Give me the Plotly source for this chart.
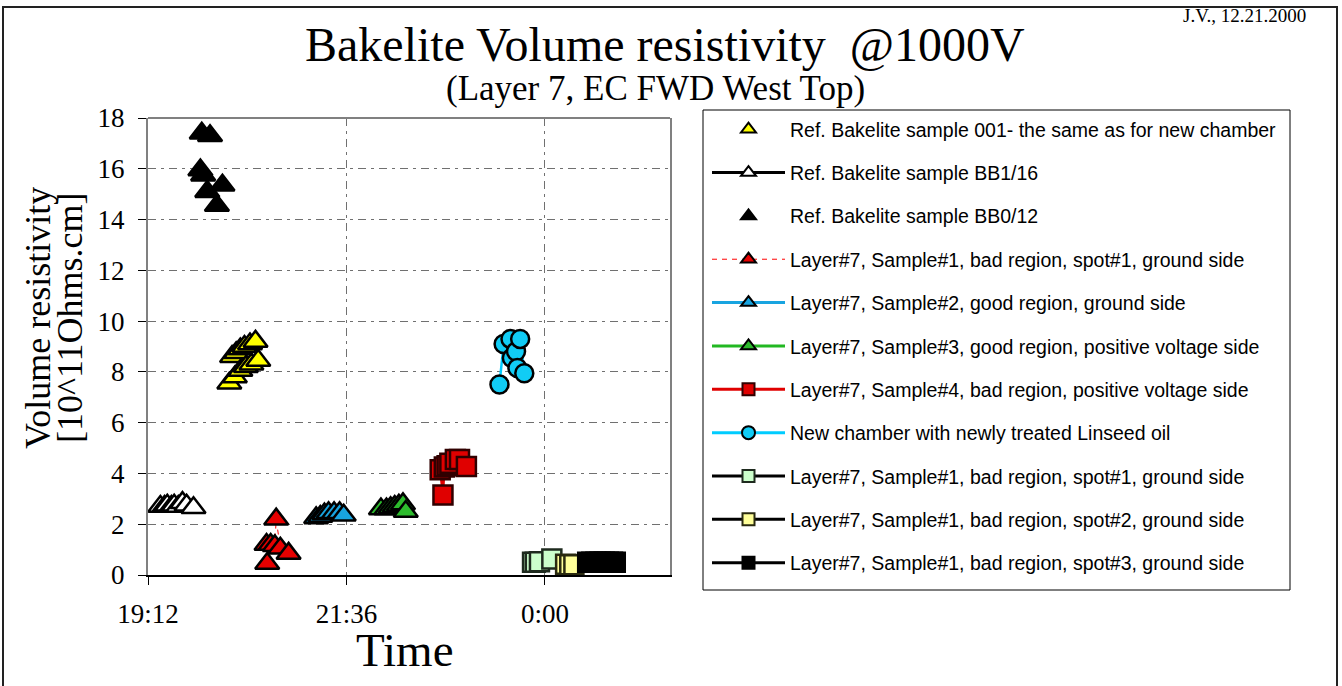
import plotly.graph_objects as go

# Measurement times (HH:MM, evening of 20 Dec running past midnight) and
# volume resistivity values in units of 10^11 Ohm.cm
ref001_t = ["20:11", "20:13", "20:15", "20:16", "20:19", "20:19", "20:22", "20:23", "20:26", "20:27", "20:30", "20:32"]
ref001_v = [7.55, 8.6, 7.8, 8.75, 8.05, 8.9, 9.0, 8.2, 9.1, 8.3, 9.2, 8.45]

bb1_t = ["19:21", "19:24", "19:26", "19:29", "19:31", "19:34", "19:37", "19:40", "19:45"]
bb1_v = [2.7, 2.7, 2.75, 2.7, 2.75, 2.7, 2.85, 2.75, 2.65]

bb0_t = ["19:50", "19:51", "19:52", "19:55", "19:57", "20:02", "20:06"]
bb0_v = [15.95, 17.4, 15.75, 15.1, 17.3, 14.55, 15.35]

s1_t = ["20:38", "20:38:30", "20:41", "20:44", "20:45", "20:48", "20:54"]
s1_v = [1.2, 0.45, 1.2, 1.15, 2.2, 1.05, 0.85]

s2_t = ["21:14", "21:17", "21:20", "21:23", "21:27", "21:31", "21:34"]
s2_v = [2.25, 2.3, 2.4, 2.45, 2.45, 2.45, 2.35]

s3_t = ["22:01", "22:05", "22:08", "22:11", "22:14", "22:17", "22:19"]
s3_v = [2.6, 2.6, 2.65, 2.7, 2.75, 2.8, 2.5]

s4_t = ["22:44", "22:46", "22:47", "22:49", "22:51", "22:55", "22:58", "23:03"]
s4_v = [4.15, 3.15, 4.25, 4.3, 4.4, 4.55, 4.55, 4.27]

new_t = ["23:27", "23:30", "23:35", "23:36", "23:39", "23:40", "23:42", "23:45"]
new_v = [7.5, 9.1, 9.3, 8.55, 8.8, 8.15, 9.3, 7.95]

spot1_t = ["23:51", "23:53", "23:56", "00:05"]
spot1_v = [0.5, 0.5, 0.52, 0.63]

spot2_t = ["00:15", "00:18", "00:21"]
spot2_v = [0.42, 0.4, 0.4]

spot3_t = ["00:31", "00:34", "00:37", "00:40", "00:43", "00:46", "00:49", "00:51"]
spot3_v = [0.5, 0.5, 0.5, 0.5, 0.5, 0.5, 0.5, 0.5]

tick_times = ["19:12", "21:36", "00:00"]
tick_text = ["19:12", "21:36", "0:00"]
y_ticks = [0, 2, 4, 6, 8, 10, 12, 14, 16, 18]

DAY1, DAY2 = "2000-12-20", "2000-12-21"


def stamp(hm):
    """Attach the date: evening hours belong to day 1, after midnight to day 2."""
    hour = int(hm.split(":")[0])
    return (DAY1 if hour >= 12 else DAY2) + " " + hm


def stamps(times):
    return [stamp(t) for t in times]


SERIF = "Liberation Serif, Times New Roman, serif"
SANS = "Liberation Sans, Arial, sans-serif"

W, H = 1342, 686
ML, MR, MT, MB = 148, 672, 118, 111
PW, PH = W - ML - MR, H - MT - MB


def px_x(px):
    return (px - ML) / PW


def px_y(py):
    return (H - MB - py) / PH


series = [
    dict(name="Ref. Bakelite sample 001- the same as for new chamber", t=ref001_t, v=ref001_v,
         symbol="triangle-up", size=21, fill="#FFFF00", edge="#000000", line=None),
    dict(name="Ref. Bakelite sample BB1/16", t=bb1_t, v=bb1_v,
         symbol="triangle-up", size=21, fill="#FFFFFF", edge="#000000",
         line=dict(color="#000000", width=2.5)),
    dict(name="Ref. Bakelite sample BB0/12", t=bb0_t, v=bb0_v,
         symbol="triangle-up", size=21, fill="#000000", edge="#000000", line=None),
    dict(name="Layer#7, Sample#1, bad region, spot#1, ground side", t=s1_t, v=s1_v,
         symbol="triangle-up", size=21, fill="#E60000", edge="#000000",
         line=dict(color="#FF0000", width=1, dash="5px,5px")),
    dict(name="Layer#7, Sample#2, good region, ground side", t=s2_t, v=s2_v,
         symbol="triangle-up", size=21, fill="#18A4E0", edge="#000000",
         line=dict(color="#18A4E0", width=2.5)),
    dict(name="Layer#7, Sample#3, good region, positive voltage side", t=s3_t, v=s3_v,
         symbol="triangle-up", size=21, fill="#2DBB2D", edge="#000000",
         line=dict(color="#22B822", width=2.5)),
    dict(name="Layer#7, Sample#4, bad region, positive voltage side", t=s4_t, v=s4_v,
         symbol="square", size=19, fill="#E00000", edge="#300000",
         line=dict(color="#E00000", width=2.5)),
    dict(name="New chamber with newly treated Linseed oil", t=new_t, v=new_v,
         symbol="circle", size=18, fill="#11CCF5", edge="#000000",
         line=dict(color="#00CCFF", width=2.5)),
    dict(name="Layer#7, Sample#1, bad region, spot#1, ground side", t=spot1_t, v=spot1_v,
         symbol="square", size=19, fill="#CCFFCC", edge="#1E2A1E",
         line=dict(color="#000000", width=2.5)),
    dict(name="Layer#7, Sample#1, bad region, spot#2, ground side", t=spot2_t, v=spot2_v,
         symbol="square", size=19, fill="#FFFF99", edge="#2A2A10",
         line=dict(color="#000000", width=2.5)),
    dict(name="Layer#7, Sample#1, bad region, spot#3, ground side", t=spot3_t, v=spot3_v,
         symbol="square", size=19, fill="#000000", edge="#000000",
         line=dict(color="#000000", width=2.5)),
]

fig = go.Figure()
for i, s in enumerate(series):
    has_line = s["line"] is not None
    mode = "lines+markers" if has_line else "markers"
    fig.add_trace(go.Scatter(
        x=stamps(s["t"]), y=s["v"], name=s["name"], mode=mode,
        line=s["line"] if has_line else None,
        marker=dict(symbol=s["symbol"], size=s["size"], color=s["fill"],
                    line=dict(color=s["edge"], width=2.5)),
        showlegend=False, legendgroup=f"g{i}",
    ))

# Legend keys use smaller markers and thinner lines than the plotted points
for i, s in enumerate(series):
    has_line = s["line"] is not None
    key_line = None
    if has_line:
        key_line = dict(s["line"])
        if key_line.get("dash") is None:
            key_line["width"] = 3
    fig.add_trace(go.Scatter(
        x=[None], y=[None], name=s["name"],
        mode="lines+markers" if has_line else "markers",
        line=key_line,
        marker=dict(symbol=s["symbol"], size=13 if s["symbol"] != "square" else 12,
                    color=s["fill"], line=dict(color=s["edge"], width=2)),
        legendgroup=f"g{i}", showlegend=True, hoverinfo="skip",
    ))

grid = dict(gridcolor="#707070", gridwidth=1.3, griddash="8px,5px,3px,5px")

fig.update_xaxes(
    type="date",
    range=[stamp("19:12"), stamp("01:30:43")],
    tickmode="array", tickvals=stamps(tick_times), ticktext=tick_text,
    ticks="outside", ticklen=8, tickcolor="#000000", tickwidth=1,
    showline=True, linecolor="#000000", linewidth=2,
    tickfont=dict(family=SERIF, size=27, color="#000000"),
    ticklabelstandoff=6,
    showgrid=True, zeroline=False, **grid,
)
fig.update_yaxes(
    range=[0, 18], tickmode="array", tickvals=y_ticks,
    ticks="outside", ticklen=8, tickcolor="#000000", tickwidth=1,
    showline=True, linecolor="#808080", linewidth=2, mirror=True,
    tickfont=dict(family=SERIF, size=27, color="#000000"),
    ticklabelstandoff=8,
    showgrid=True, zeroline=False, **grid,
)

shapes = [
    # top edge of the plot frame
    dict(type="line", xref="paper", yref="paper", x0=0, x1=1, y0=1, y1=1,
         line=dict(color="#808080", width=2)),
    # legend frame
    dict(type="rect", xref="paper", yref="paper",
         x0=px_x(703), x1=px_x(1290), y0=px_y(590), y1=px_y(110),
         line=dict(color="#000000", width=1)),
    # outer chart border
    dict(type="rect", xref="paper", yref="paper",
         x0=px_x(3), x1=px_x(1337), y0=px_y(700), y1=px_y(7),
         line=dict(color="#222222", width=2)),
]

annotations = [
    dict(text="Bakelite Volume resistivity  @1000V", x=px_x(665), y=px_y(44),
         font=dict(family=SERIF, size=48, color="#000000")),
    dict(text="(Layer 7, EC FWD West Top)", x=px_x(655), y=px_y(88),
         font=dict(family=SERIF, size=35, color="#000000")),
    dict(text="J.V., 12.21.2000", x=px_x(1308), y=px_y(15), xanchor="right",
         font=dict(family=SERIF, size=19, color="#000000")),
    dict(text="Time", x=px_x(405), y=px_y(650),
         font=dict(family=SERIF, size=47, color="#000000")),
    dict(text="Volume resistivity", x=px_x(38), y=px_y(318), textangle=-90,
         font=dict(family=SERIF, size=36, color="#000000")),
    dict(text="[10^11Ohms.cm]", x=px_x(70), y=px_y(318), textangle=-90,
         font=dict(family=SERIF, size=36, color="#000000")),
]
for a in annotations:
    a.setdefault("xanchor", "center")
    a.update(xref="paper", yref="paper", yanchor="middle", showarrow=False)

fig.update_layout(
    width=W, height=H, autosize=False,
    margin=dict(l=ML, r=MR, t=MT, b=MB, pad=0),
    paper_bgcolor="#FFFFFF", plot_bgcolor="#FFFFFF",
    showlegend=True,
    legend=dict(
        x=px_x(707), y=px_y(110), xanchor="left", yanchor="top",
        bgcolor="rgba(0,0,0,0)", borderwidth=0,
        font=dict(family=SANS, size=19.5, color="#000000"),
        traceorder="grouped", tracegroupgap=15,
        itemsizing="trace", itemwidth=73, maxheight=640,
    ),
    shapes=shapes,
    annotations=annotations,
)

fig.write_html("out.html")
